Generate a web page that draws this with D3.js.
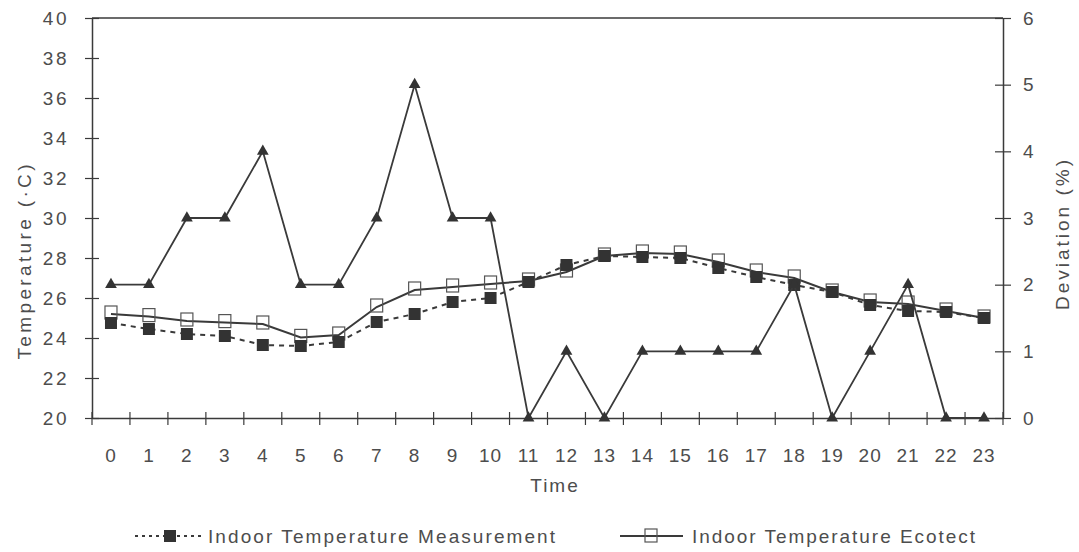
<!DOCTYPE html>
<html>
<head>
<meta charset="utf-8">
<script src="https://cdn.jsdelivr.net/npm/d3@7"></script>
<style>
  html, body { margin: 0; padding: 0; background: #fff; }
  svg text { font-family: "Liberation Sans", Arial, sans-serif; fill: #4d4d4d; }
</style>
</head>
<body>
<svg id="chart" width="1079" height="552"></svg>
<script>
// Hours of the day
const hours = ["0","1","2","3","4","5","6","7","8","9","10","11","12","13","14","15","16","17","18","19","20","21","22","23"];

// Measured indoor temperature (°C)
const measured = [24.75, 24.45, 24.2, 24.1, 23.65, 23.6, 23.8, 24.8, 25.2, 25.8, 26.0, 26.8,
                  27.65, 28.1, 28.05, 28.0, 27.5, 27.05, 26.65, 26.3, 25.65, 25.35, 25.3, 25.0];

// Simulated indoor temperature, Ecotect (°C)
const ecotect = [25.2, 25.07, 24.85, 24.77, 24.7, 24.03, 24.15, 25.55, 26.4, 26.55, 26.7, 26.85,
                 27.3, 28.1, 28.25, 28.2, 27.8, 27.3, 27.0, 26.3, 25.8, 25.7, 25.35, 25.0];

// Deviation between the two (%)
const deviation = [2, 2, 3, 3, 4, 2, 2, 3, 5, 3, 3, 0, 1, 0, 1, 1, 1, 1, 2, 0, 1, 2, 0, 0];

const tempTicks = [20, 22, 24, 26, 28, 30, 32, 34, 36, 38, 40];
const devTicks = [0, 1, 2, 3, 4, 5, 6];

const svg = d3.select("#chart");
const plotL = 92, plotR = 1003, plotT = 18, plotB = 418;
const ink = "#3a3a3a";

const x = d3.scaleBand().domain(hours).range([plotL, plotR]);
const cx = h => x(h) + x.bandwidth() / 2;
const yT = d3.scaleLinear().domain([20, 40]).range([plotB, plotT]);
const yD = d3.scaleLinear().domain([0, 6]).range([plotB, plotT]);

// Frame: top border, left and right axes
svg.append("line").attr("x1", plotL).attr("x2", plotR).attr("y1", plotT).attr("y2", plotT)
  .attr("stroke", ink).attr("stroke-width", 1.5);

const leftAxis = svg.append("g").attr("transform", `translate(${plotL},0)`)
  .call(d3.axisLeft(yT).tickValues(tempTicks).tickSize(7).tickPadding(16).tickSizeOuter(0));
leftAxis.selectAll(".tick line").clone().attr("x2", 7);

const rightAxis = svg.append("g").attr("transform", `translate(${plotR},0)`)
  .call(d3.axisRight(yD).tickValues(devTicks).tickFormat(d3.format("d"))
    .tickSize(8).tickPadding(12).tickSizeOuter(0));
rightAxis.selectAll(".tick line").clone().attr("x2", -8);

// Bottom axis: ticks sit between the hours and cross the axis line
const bottomAxis = svg.append("g").attr("transform", `translate(0,${plotB})`)
  .call(d3.axisBottom(x).tickSize(0).tickPadding(31).tickSizeOuter(0));
const edges = hours.map(h => x(h)).concat([plotR]);
bottomAxis.selectAll(".edge").data(edges).join("line").attr("class", "edge")
  .attr("x1", d => d).attr("x2", d => d).attr("y1", -6).attr("y2", 7)
  .attr("stroke", ink).attr("stroke-width", 1.2);

[leftAxis, rightAxis, bottomAxis].forEach(g => {
  g.select(".domain").attr("stroke", ink).attr("stroke-width", 1.5);
  g.selectAll(".tick line").attr("stroke", ink).attr("stroke-width", 1.2);
  g.selectAll("text").attr("font-size", 19).attr("letter-spacing", 2.5)
    .attr("font-family", "Liberation Sans, Arial, sans-serif").attr("fill", "#4d4d4d");
});
bottomAxis.selectAll(".tick text").attr("letter-spacing", 1);

// Axis titles
svg.append("text").attr("transform", "translate(31,262) rotate(-90)")
  .attr("text-anchor", "middle").attr("font-size", 19)
  .attr("textLength", 195).attr("lengthAdjust", "spacing").text("Temperature (·C)");
svg.append("text").attr("transform", "translate(1069,235) rotate(-90)")
  .attr("text-anchor", "middle").attr("font-size", 19)
  .attr("textLength", 150).attr("lengthAdjust", "spacing").text("Deviation (%)");
svg.append("text").attr("x", 555).attr("y", 492).attr("text-anchor", "middle")
  .attr("font-size", 19).attr("letter-spacing", 2).text("Time");

// Ecotect series: solid line with open squares
const lineT = d3.line().x((d, i) => cx(hours[i])).y(d => yT(d));
svg.append("path").datum(ecotect).attr("d", lineT)
  .attr("fill", "none").attr("stroke", ink).attr("stroke-width", 2);
svg.append("g").selectAll("rect").data(ecotect).join("rect")
  .attr("x", (d, i) => cx(hours[i]) - 6).attr("y", d => yT(d) - 8)
  .attr("width", 12).attr("height", 13)
  .attr("fill", "none").attr("stroke", "#555").attr("stroke-width", 1.2);

// Measurement series: dashed line with filled squares
svg.append("path").datum(measured).attr("d", lineT)
  .attr("fill", "none").attr("stroke", ink).attr("stroke-width", 2)
  .attr("stroke-dasharray", "5,5");
svg.append("g").selectAll("rect").data(measured).join("rect")
  .attr("x", (d, i) => cx(hours[i]) - 6).attr("y", d => yT(d) - 6)
  .attr("width", 12).attr("height", 12).attr("fill", "#333");

// Deviation series: solid line with filled triangles on the right axis
const lineD = d3.line().x((d, i) => cx(hours[i])).y(d => yD(d));
svg.append("path").datum(deviation).attr("d", lineD)
  .attr("fill", "none").attr("stroke", ink).attr("stroke-width", 1.8);
const tri = d3.symbol().type(d3.symbolTriangle).size(60);
svg.append("g").selectAll("path").data(deviation).join("path")
  .attr("d", tri).attr("transform", (d, i) => `translate(${cx(hours[i])},${yD(d)})`)
  .attr("fill", "#333");

// Legend
const ly = 536;
const lg1 = svg.append("g");
lg1.append("line").attr("x1", 135).attr("x2", 205).attr("y1", ly).attr("y2", ly)
  .attr("stroke", ink).attr("stroke-width", 2).attr("stroke-dasharray", "3,4");
lg1.append("rect").attr("x", 164).attr("y", ly - 6).attr("width", 12).attr("height", 12).attr("fill", "#333");
lg1.append("text").attr("x", 208).attr("y", ly + 7).attr("font-size", 19)
  .attr("textLength", 347).attr("lengthAdjust", "spacing").text("Indoor Temperature Measurement");

const lg2 = svg.append("g");
lg2.append("line").attr("x1", 620).attr("x2", 683).attr("y1", ly).attr("y2", ly)
  .attr("stroke", ink).attr("stroke-width", 2);
lg2.append("rect").attr("x", 645).attr("y", ly - 7).attr("width", 12).attr("height", 13)
  .attr("fill", "none").attr("stroke", "#555").attr("stroke-width", 1.2);
lg2.append("text").attr("x", 692).attr("y", ly + 7).attr("font-size", 19)
  .attr("textLength", 283).attr("lengthAdjust", "spacing").text("Indoor Temperature Ecotect");
</script>
</body>
</html>
